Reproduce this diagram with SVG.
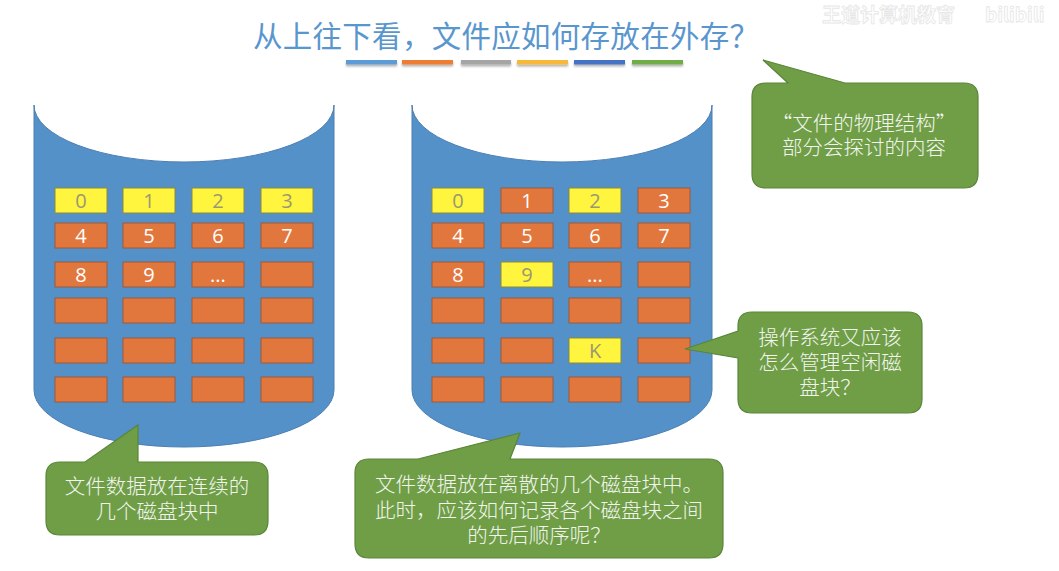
<svg xmlns="http://www.w3.org/2000/svg" width="1059" height="571" viewBox="0 0 1059 571">
<defs>
<style>
.cyl{fill:#5591C9;stroke:#4A7FB3;stroke-width:1}
.o{fill:#E2773E;stroke:#9A5A3A;stroke-width:1}
.y{fill:#FFF43E;stroke:#8C8A3A;stroke-width:1}
.dw{font-family:"Open Sans","Liberation Sans",sans-serif;font-size:20px;fill:#ffffff;text-anchor:middle}
.dy{font-family:"Open Sans","Liberation Sans",sans-serif;font-size:20px;fill:#9A9872;text-anchor:middle}
.call{fill:#6F9E47;stroke:#5A8639;stroke-width:1.2}
.ct{font-family:"Noto Sans CJK SC","Noto Sans",sans-serif;font-size:20.5px;fill:#F2F5EE;text-anchor:middle;font-weight:300}
.title{font-family:"Noto Sans CJK SC","Noto Sans",sans-serif;font-size:29.5px;fill:#5A96CE;font-weight:400}
.wm{font-family:"Noto Sans CJK SC",sans-serif;font-size:19px;fill:#ffffff;stroke:#e6e6e6;stroke-width:0.8;font-weight:700}
</style>
<filter id="sh" x="-10%" y="-100%" width="120%" height="400%">
<feDropShadow dx="0" dy="2" stdDeviation="1.2" flood-color="#000" flood-opacity="0.3"/>
</filter>
</defs>
<rect width="1059" height="571" fill="#ffffff"/>

<g id="watermark">
<text class="wm" x="822" y="22">王道计算机教育</text>
<text class="wm" x="985" y="22" font-family="Liberation Sans,sans-serif">bilibili</text>
</g>

<g id="title">
<text class="title" x="253" y="47" textLength="506" lengthAdjust="spacing">从上往下看，文件应如何存放在外存？</text>
<g filter="url(#sh)">
<rect x="346" y="60" width="51" height="4.5" fill="#5B9BD5"/>
<rect x="402" y="60" width="51" height="4.5" fill="#ED7D31"/>
<rect x="461" y="60" width="50" height="4.5" fill="#A5A5A5"/>
<rect x="517" y="60" width="51" height="4.5" fill="#F8B93A"/>
<rect x="574" y="60" width="51" height="4.5" fill="#4472C4"/>
<rect x="632" y="60" width="51" height="4.5" fill="#70AD47"/>
</g>
</g>

<g id="disk-left">
<path class="cyl" d="M34,105 L34,390 A150,57 0 0 0 334,390 L334,105 A150,57 0 0 1 34,105 Z"/>
<g>
<rect class="y" x="55" y="188" width="52" height="25"/><text class="dy" x="81" y="208">0</text>
<rect class="y" x="123" y="188" width="52" height="25"/><text class="dy" x="149" y="208">1</text>
<rect class="y" x="192" y="188" width="52" height="25"/><text class="dy" x="218" y="208">2</text>
<rect class="y" x="261" y="188" width="52" height="25"/><text class="dy" x="287" y="208">3</text>

<rect class="o" x="55" y="223" width="52" height="25"/><text class="dw" x="81" y="243">4</text>
<rect class="o" x="123" y="223" width="52" height="25"/><text class="dw" x="149" y="243">5</text>
<rect class="o" x="192" y="223" width="52" height="25"/><text class="dw" x="218" y="243">6</text>
<rect class="o" x="261" y="223" width="52" height="25"/><text class="dw" x="287" y="243">7</text>

<rect class="o" x="55" y="262" width="52" height="25"/><text class="dw" x="81" y="282">8</text>
<rect class="o" x="123" y="262" width="52" height="25"/><text class="dw" x="149" y="282">9</text>
<rect class="o" x="192" y="262" width="52" height="25"/><text class="dw" x="218" y="282" font-size="15">...</text>
<rect class="o" x="261" y="262" width="52" height="25"/>

<rect class="o" x="55" y="298" width="52" height="25"/>
<rect class="o" x="123" y="298" width="52" height="25"/>
<rect class="o" x="192" y="298" width="52" height="25"/>
<rect class="o" x="261" y="298" width="52" height="25"/>

<rect class="o" x="55" y="338" width="52" height="25"/>
<rect class="o" x="123" y="338" width="52" height="25"/>
<rect class="o" x="192" y="338" width="52" height="25"/>
<rect class="o" x="261" y="338" width="52" height="25"/>

<rect class="o" x="55" y="377" width="52" height="25"/>
<rect class="o" x="123" y="377" width="52" height="25"/>
<rect class="o" x="192" y="377" width="52" height="25"/>
<rect class="o" x="261" y="377" width="52" height="25"/>
</g>
</g>

<g id="disk-right">
<path class="cyl" d="M412,105 L412,390 A150,57 0 0 0 712,390 L712,105 A150,57 0 0 1 412,105 Z"/>
<g>
<rect class="y" x="432" y="188" width="52" height="25"/><text class="dy" x="458" y="208">0</text>
<rect class="o" x="501" y="188" width="52" height="25"/><text class="dw" x="527" y="208">1</text>
<rect class="y" x="569" y="188" width="52" height="25"/><text class="dy" x="595" y="208">2</text>
<rect class="o" x="638" y="188" width="52" height="25"/><text class="dw" x="664" y="208">3</text>

<rect class="o" x="432" y="223" width="52" height="25"/><text class="dw" x="458" y="243">4</text>
<rect class="o" x="501" y="223" width="52" height="25"/><text class="dw" x="527" y="243">5</text>
<rect class="o" x="569" y="223" width="52" height="25"/><text class="dw" x="595" y="243">6</text>
<rect class="o" x="638" y="223" width="52" height="25"/><text class="dw" x="664" y="243">7</text>

<rect class="o" x="432" y="262" width="52" height="25"/><text class="dw" x="458" y="282">8</text>
<rect class="y" x="501" y="262" width="52" height="25"/><text class="dy" x="527" y="282">9</text>
<rect class="o" x="569" y="262" width="52" height="25"/><text class="dw" x="595" y="282" font-size="15">...</text>
<rect class="o" x="638" y="262" width="52" height="25"/>

<rect class="o" x="432" y="298" width="52" height="25"/>
<rect class="o" x="501" y="298" width="52" height="25"/>
<rect class="o" x="569" y="298" width="52" height="25"/>
<rect class="o" x="638" y="298" width="52" height="25"/>

<rect class="o" x="432" y="338" width="52" height="25"/>
<rect class="o" x="501" y="338" width="52" height="25"/>
<rect class="y" x="569" y="338" width="52" height="25"/><text class="dy" x="595" y="358">K</text>
<rect class="o" x="638" y="338" width="52" height="25"/>

<rect class="o" x="432" y="377" width="52" height="25"/>
<rect class="o" x="501" y="377" width="52" height="25"/>
<rect class="o" x="569" y="377" width="52" height="25"/>
<rect class="o" x="638" y="377" width="52" height="25"/>
</g>
</g>

<g id="callout-physical">
<path class="call" d="M766,83 L788,83 L763,60 L845,83 L964,83 Q978,83 978,97 L978,174 Q978,188 964,188 L766,188 Q752,188 752,174 L752,97 Q752,83 766,83 Z"/>
<text class="ct" x="864" y="131">“文件的物理结构”</text>
<text class="ct" x="864" y="155">部分会探讨的内容</text>
</g>

<g id="callout-free">
<path class="call" d="M752,312 L908,312 Q922,312 922,326 L922,399 Q922,413 908,413 L752,413 Q738,413 738,399 L738,358 L685,349 L738,331 L738,326 Q738,312 752,312 Z"/>
<text class="ct" x="830" y="345">操作系统又应该</text>
<text class="ct" x="830" y="370">怎么管理空闲磁</text>
<text class="ct" x="830" y="395">盘块？</text>
</g>

<g id="callout-contiguous">
<path class="call" d="M60,462 L85,462 L138,425 L138,462 L254,462 Q268,462 268,476 L268,521 Q268,535 254,535 L60,535 Q46,535 46,521 L46,476 Q46,462 60,462 Z"/>
<text class="ct" x="157" y="494">文件数据放在连续的</text>
<text class="ct" x="157" y="519">几个磁盘块中</text>
</g>

<g id="callout-scattered">
<path class="call" d="M369,459 L418,459 L520,433 L510,459 L709,459 Q723,459 723,473 L723,544 Q723,558 709,558 L369,558 Q355,558 355,544 L355,473 Q355,459 369,459 Z"/>
<text class="ct" x="539" y="492">文件数据放在离散的几个磁盘块中。</text>
<text class="ct" x="539" y="518">此时，应该如何记录各个磁盘块之间</text>
<text class="ct" x="539" y="543">的先后顺序呢？</text>
</g>

<g id="connectors"></g>
</svg>
